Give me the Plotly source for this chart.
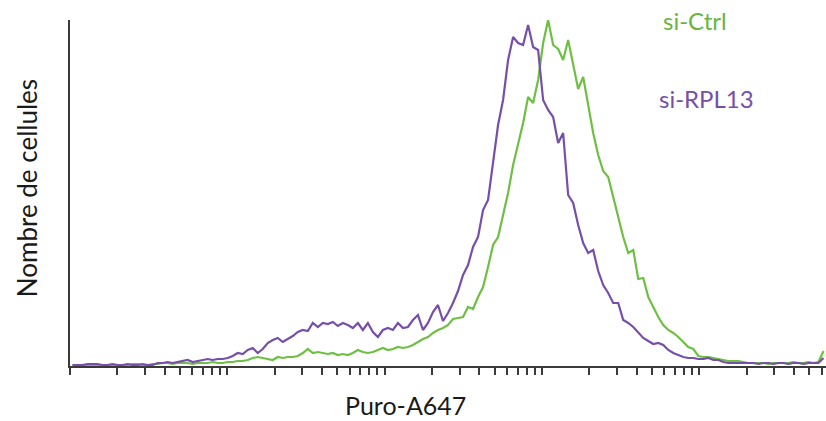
import numpy as np
import plotly.graph_objects as go

# Histogram counts (arbitrary units) on log-spaced bins spanning 10^0 .. 10^4.806
si_rpl13 = [0, 0, 0, 1, 1, 1, 0, 0, 1, 0, 0, 1, 0, 0, 1, 0, 0, 2, 2, 3,
            2, 3, 4, 5, 3, 4, 5, 6, 5, 6, 6, 7, 9, 12, 11, 15, 17, 12, 16, 22,
            25, 27, 23, 26, 29, 33, 35, 34, 42, 38, 42, 41, 43, 39, 42, 40, 37, 42, 35, 42,
            33, 28, 35, 37, 35, 42, 37, 38, 45, 50, 35, 42, 53, 60, 44, 52, 62, 74, 90, 100,
            118, 128, 155, 165, 205, 240, 265, 305, 328, 322, 320, 340, 318, 315, 265, 255, 248, 222, 232, 170,
            162, 140, 122, 112, 115, 94, 80, 72, 62, 62, 45, 42, 38, 32, 27, 24, 21, 22, 20, 15,
            12, 10, 8, 7, 7, 6, 6, 7, 5, 5, 3, 2, 2, 2, 2, 2, 2, 1, 2, 2,
            1, 2, 2, 1, 2, 2, 1, 2, 2, 2, 7]
si_ctrl = [0, 0, 0, 0, 0, 0, 0, 0, 0, 0, 0, 0, 1, 1, 0, 0, 1, 1, 2, 2,
           1, 2, 2, 2, 1, 2, 2, 2, 3, 2, 2, 3, 3, 4, 4, 5, 7, 8, 7, 6,
           5, 8, 7, 8, 8, 9, 12, 16, 12, 13, 12, 11, 12, 10, 11, 10, 12, 15, 13, 12,
           13, 15, 17, 15, 16, 18, 17, 18, 20, 23, 26, 28, 32, 35, 37, 40, 46, 47, 48, 58,
           56, 68, 78, 98, 120, 128, 150, 172, 200, 222, 242, 268, 262, 285, 322, 345, 320, 316, 305, 325,
           300, 276, 288, 258, 232, 210, 194, 188, 168, 145, 128, 112, 115, 86, 87, 68, 58, 48, 40, 35,
           32, 28, 23, 18, 16, 9, 8, 8, 7, 6, 5, 4, 4, 4, 3, 2, 2, 2, 2, 1,
           2, 2, 2, 2, 3, 2, 2, 3, 2, 3, 14]

log_max = 4.806
n_bins = len(si_ctrl)
edges = np.linspace(0, log_max, n_bins + 1)
centers = 10 ** ((edges[:-1] + edges[1:]) / 2)

# Axis ticks: 1..9 x 10^k
tick_vals = [m * 10 ** k for k in range(0, 5) for m in range(1, 10) if m * 10 ** k <= 10 ** log_max]

green = "#6fbf45"
purple = "#7650a8"

fig = go.Figure()
fig.add_trace(go.Scatter(x=centers, y=si_ctrl, mode="lines",
                         line=dict(color=green, width=2.2), name="si-Ctrl"))
fig.add_trace(go.Scatter(x=centers, y=si_rpl13, mode="lines",
                         line=dict(color=purple, width=2.2), name="si-RPL13"))

font_family = "Lato, 'Open Sans', sans-serif"
fig.update_layout(
    width=826, height=421,
    margin=dict(l=70, r=0, t=20, b=55),
    paper_bgcolor="white", plot_bgcolor="white",
    showlegend=False,
    font=dict(family=font_family),
    xaxis=dict(type="log", range=[0, log_max], showgrid=False, zeroline=False,
               showline=True, linecolor="#3a3a3a", linewidth=2,
               ticks="outside", ticklen=7, tickwidth=2, tickcolor="#3a3a3a",
               tickvals=tick_vals, showticklabels=False),
    yaxis=dict(range=[-1, 345], showgrid=False, zeroline=False,
               showline=True, linecolor="#3a3a3a", linewidth=2,
               ticks="", showticklabels=False),
    annotations=[
        dict(text="Puro-A647", xref="paper", yref="paper", x=0.444, y=-0.112,
             showarrow=False, font=dict(size=25, color="#1a1a1a"),
             xanchor="center", yanchor="middle"),
        dict(text="Nombre de cellules", xref="paper", yref="paper", x=-0.0569, y=0.514,
             showarrow=False, textangle=-90, font=dict(size=26, color="#1a1a1a"),
             xanchor="center", yanchor="middle"),
        dict(text="si-Ctrl", xref="paper", yref="paper", x=0.7817, y=1.0,
             showarrow=False, font=dict(size=24, color="#6ab446"),
             xanchor="left", yanchor="middle"),
        dict(text="si-RPL13", xref="paper", yref="paper", x=0.7765, y=0.772,
             showarrow=False, font=dict(size=24, color="#7650a8"),
             xanchor="left", yanchor="middle"),
    ],
)

fig.write_html("out.html", config={"displayModeBar": False},
               post_script="document.body.style.margin='0';document.body.style.padding='0';")
